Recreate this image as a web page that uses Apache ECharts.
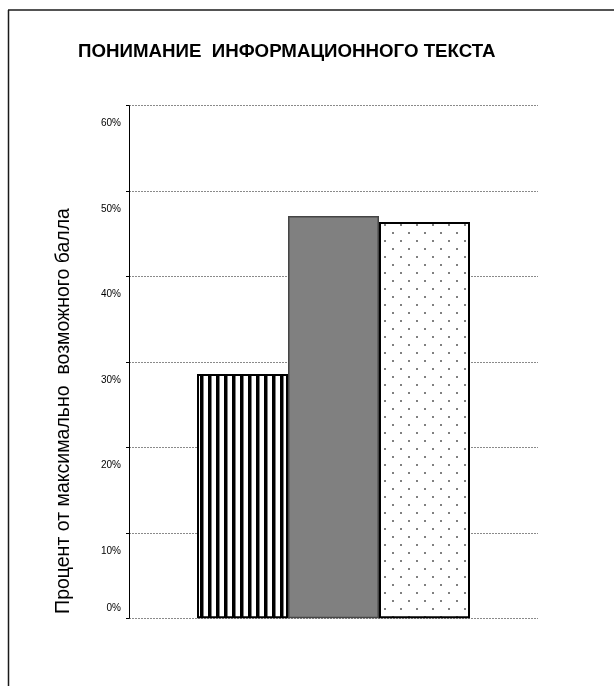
<!DOCTYPE html>
<html>
<head>
<meta charset="utf-8">
<script src="https://cdn.jsdelivr.net/npm/echarts@6/dist/echarts.min.js"></script>
<style>
  html, body { margin: 0; padding: 0; background: #fff; }
  #chart { width: 614px; height: 686px; }
</style>
</head>
<body>
<div id="chart"></div>
<script>
// Chart data
const titleText = 'ПОНИМАНИЕ  ИНФОРМАЦИОННОГО ТЕКСТА';
const axisTitle = 'Процент от максимально  возможного балла';
const categories = [''];
const groupNames = ['Группа 1', 'Группа 2', 'Группа 3'];
const barValues = [28.6, 47.1, 46.4];
const yMin = 0, yMax = 60, yStep = 10;

const FONT = '"Liberation Sans", Arial, sans-serif';

// Fill patterns: vertical stripes, solid grey, dotted
function stripePattern() {
  const c = document.createElement('canvas');
  c.width = 8; c.height = 8;
  const g = c.getContext('2d');
  g.fillStyle = '#fff'; g.fillRect(0, 0, 8, 8);
  g.fillStyle = '#000'; g.fillRect(0, 0, 3.5, 8);
  return c;
}
function dotPattern() {
  const c = document.createElement('canvas');
  c.width = 16; c.height = 16;
  const g = c.getContext('2d');
  g.fillStyle = '#fff'; g.fillRect(0, 0, 16, 16);
  g.fillStyle = '#808080';
  g.fillRect(0, 0, 2, 2);
  g.fillRect(8, 8, 2, 2);
  return c;
}

const styles = [
  { color: { image: stripePattern(), repeat: 'repeat' }, borderColor: '#000', borderWidth: 2 },
  { color: '#808080', borderColor: '#454545', borderWidth: 1.5 },
  { color: { image: dotPattern(), repeat: 'repeat' }, borderColor: '#000', borderWidth: 2 }
];

const chart = echarts.init(document.getElementById('chart'), null, { renderer: 'canvas' });

chart.setOption({
  animation: false,
  backgroundColor: '#fff',
  title: {
    text: titleText,
    left: 78, top: 42, padding: 0,
    textStyle: { fontFamily: FONT, fontSize: 18.7, fontWeight: 'bold', color: '#000' }
  },
  grid: { left: 129, right: 76, top: 105.7, bottom: 67.7, containLabel: false },
  xAxis: {
    type: 'category',
    data: categories,
    axisLine: { show: false },
    axisTick: { show: false },
    axisLabel: { show: false }
  },
  yAxis: {
    type: 'value',
    min: yMin, max: yMax, interval: yStep,
    axisLine: { show: true, lineStyle: { color: '#000', width: 1 } },
    axisTick: { show: true, length: 3, lineStyle: { color: '#000' } },
    splitLine: { show: true, lineStyle: { color: '#8a8a8a', width: 1, type: [2, 1] } },
    axisLabel: {
      margin: 8,
      formatter: v => v === 0 ? '{z|' + v + '%}' : '{n|' + v + '%}',
      rich: {
        n: { fontFamily: FONT, fontSize: 10, color: '#000', padding: [36, 0, 0, 0] },
        z: { fontFamily: FONT, fontSize: 10, color: '#000', padding: [0, 0, 20, 0] }
      }
    }
  },
  series: groupNames.map((name, i) => ({
    name: name,
    type: 'bar',
    barWidth: 91,
    barGap: '0%',
    data: [barValues[i]],
    itemStyle: styles[i]
  })),
  graphic: [
    { type: 'line', shape: { x1: 8, y1: 10, x2: 614, y2: 10 }, style: { stroke: '#1a1a1a', lineWidth: 1.5 } },
    { type: 'line', shape: { x1: 8.5, y1: 10, x2: 8.5, y2: 686 }, style: { stroke: '#1a1a1a', lineWidth: 1.5 } },
    {
      type: 'text', x: 64, y: 411, rotation: Math.PI / 2,
      style: { text: axisTitle, fontFamily: FONT, fontSize: 19.5, fill: '#000', align: 'center', verticalAlign: 'middle' }
    }
  ]
});
</script>
</body>
</html>
